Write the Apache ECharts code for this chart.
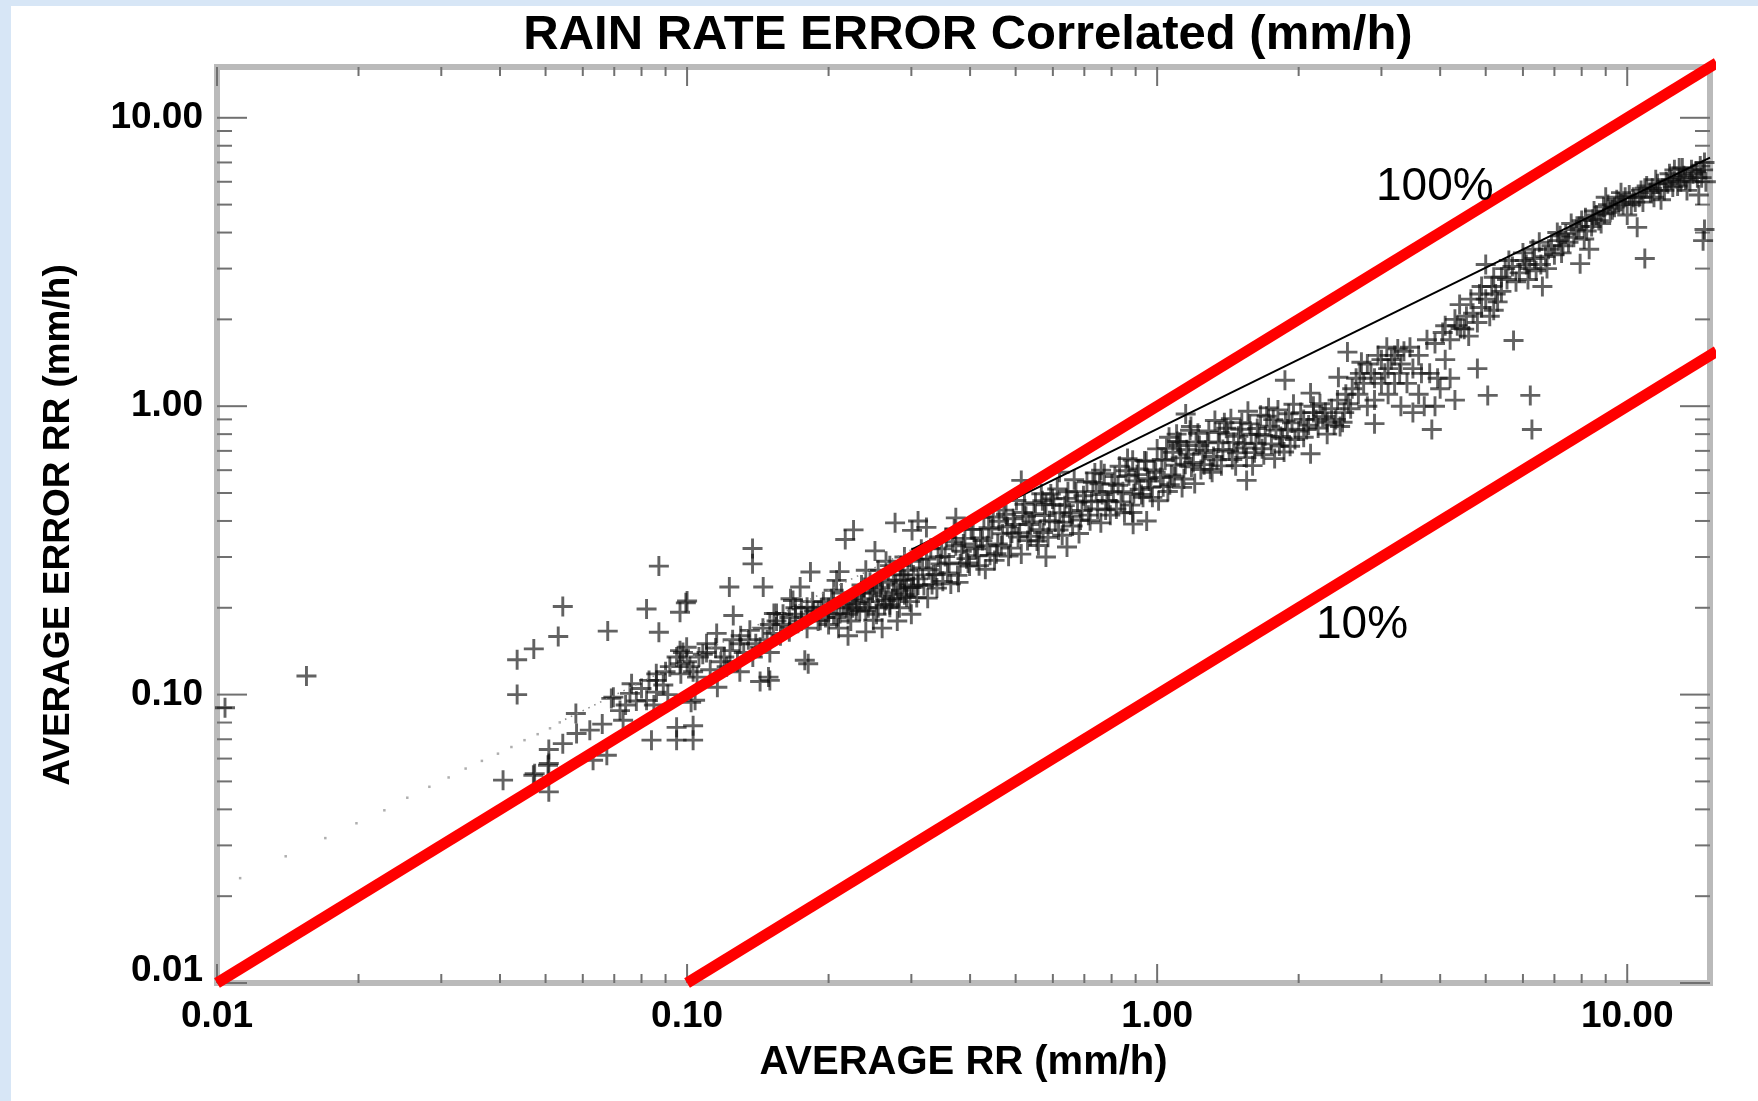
<!DOCTYPE html>
<html><head><meta charset="utf-8">
<script src="https://cdn.jsdelivr.net/npm/echarts@6/dist/echarts.min.js"></script>
<style>html,body{margin:0;padding:0;background:#fff;}#chart{width:1758px;height:1101px;}</style>
</head><body><div id="chart"></div>
<script>
// ---- axis ticks ----
const majorTicks = [0.01, 0.1, 1, 10];
const minorTicks = [0.02,0.03,0.04,0.05,0.06,0.07,0.08,0.09,0.2,0.3,0.4,0.5,0.6,0.7,0.8,0.9,2,3,4,5,6,7,8,9];

// ---- scatter data [average RR, average error RR] (mm/h) ----
const lowRRPoints = [
[0.0104,0.090],[0.0155,0.116],[0.0406,0.0505],[0.0435,0.100],[0.0435,0.132],[0.0471,0.0525],[0.0472,0.144],[0.0474,0.0532],
[0.0506,0.0569],[0.0508,0.046],[0.0508,0.0577],[0.0508,0.0645],[0.0532,0.159],[0.0544,0.0676],[0.0544,0.202],[0.0582,0.0733],
[0.0580,0.086],[0.0621,0.0753],[0.0631,0.0592],[0.066,0.079],[0.0675,0.0616],[0.0678,0.166],[0.069,0.097],[0.0697,0.098],
[0.072,0.088],[0.0731,0.0815],[0.074,0.092],[0.0756,0.101],[0.0762,0.109],[0.078,0.095],[0.080,0.105],[0.082,0.0955],
[0.0820,0.198],[0.083,0.112],[0.084,0.0695],[0.085,0.092],[0.086,0.118],[0.0861,0.102],[0.0861,0.112],[0.0871,0.1645],
[0.0871,0.279],[0.089,0.108],[0.090,0.120],[0.091,0.100],[0.0919,0.125],[0.095,0.0695],[0.095,0.077],[0.095,0.135],
[0.0966,0.128],[0.0966,0.142],[0.0966,0.193],[0.097,0.118],[0.098,0.140],[0.0994,0.208],[0.0998,0.146]
];
const midRRPoints = [
[0.1378,0.321],[0.1378,0.284],[0.123,0.236],[0.1452,0.236],[0.1254,0.188],[0.226,0.3725],[0.217,0.345],[0.277,0.394],
[0.301,0.371],[0.251,0.315],[0.183,0.266],[0.211,0.267],[0.166,0.215],[0.153,0.191],[0.178,0.1315],[0.150,0.112],
[0.143,0.111],[0.116,0.106],[0.102,0.094],[0.103,0.0695],[0.103,0.078],[0.104,0.0956],[0.1014,0.125],[0.110,0.150],
[0.1156,0.163],[0.1234,0.142],[0.1295,0.150],[0.1214,0.125],[0.1295,0.120],[0.143,0.146],[0.136,0.167],[0.1526,0.163],
[0.1656,0.1715],[0.155,0.191],[0.180,0.201],[0.192,0.181],[0.2115,0.191],[0.229,0.196],[0.249,0.181],[0.270,0.201],
[0.293,0.218],[0.303,0.236],[0.284,0.249],[0.253,0.230],[0.205,0.230],[0.168,0.212],[0.174,0.236],[0.149,0.115],
[0.181,0.128],[0.100,0.211],[0.208,0.249],[0.106,0.135],[0.100,0.130],[0.103,0.120],
[0.215,0.205],[0.222,0.212],[0.230,0.207],[0.238,0.215],[0.245,0.210],[0.260,0.220],[0.265,0.212],[0.275,0.225],
[0.285,0.230],[0.290,0.222],[0.300,0.235],[0.310,0.240],[0.240,0.195],[0.255,0.200],[0.270,0.205],[0.280,0.215],
[0.220,0.190],[0.200,0.200],[0.190,0.195],[0.185,0.210],[0.170,0.190],[0.175,0.180],[0.160,0.175],[0.165,0.185],
[0.158,0.160],[0.148,0.155],[0.140,0.150],[0.132,0.140],[0.118,0.130],[0.112,0.122],[0.108,0.138],[0.105,0.115],
[0.200,0.175],[0.210,0.170],[0.225,0.200],[0.235,0.225],[0.250,0.240],[0.310,0.400],[0.323,0.380],
[0.26,0.17],[0.28,0.18],[0.30,0.19],[0.24,0.165],[0.22,0.16],[0.27,0.28],[0.24,0.27],[0.29,0.30],
[0.255,0.27],[0.265,0.29],[0.285,0.28],[0.295,0.27],[0.275,0.26],[0.30,0.29],[0.29,0.25],[0.26,0.25],[0.245,0.245],[0.235,0.24],
[0.11,0.14],[0.115,0.145],[0.125,0.155],[0.13,0.16],[0.135,0.155],[0.145,0.17],[0.15,0.175],[0.155,0.18],[0.16,0.19],
[0.17,0.20],[0.175,0.20],[0.18,0.185],[0.19,0.18],[0.195,0.21],[0.205,0.19],[0.12,0.135],[0.128,0.13],[0.138,0.135],
[0.15,0.14],[0.165,0.165],
[0.203,0.215],[0.208,0.185],[0.213,0.225],[0.218,0.20],[0.223,0.18],[0.228,0.22],[0.233,0.195],[0.238,0.235],
[0.243,0.20],[0.248,0.225],[0.253,0.19],[0.258,0.235],[0.263,0.205],[0.268,0.245],[0.273,0.215],[0.278,0.24],
[0.283,0.20],[0.288,0.26],[0.293,0.235],[0.298,0.21],[0.303,0.26],[0.18,0.17],[0.186,0.195],[0.193,0.20],[0.197,0.185]
];
const bandPoints = [
[0.310,0.252],[0.312,0.295],[0.308,0.217],[0.317,0.275],[0.319,0.239],[0.315,0.319],[0.325,0.216],[0.327,0.271],[0.323,0.295],
[0.332,0.241],[0.334,0.260],[0.330,0.322],[0.340,0.234],[0.342,0.300],[0.338,0.261],[0.348,0.320],[0.350,0.247],[0.346,0.284],
[0.356,0.350],[0.358,0.264],[0.354,0.301],[0.364,0.242],[0.367,0.339],[0.361,0.286],[0.373,0.328],[0.376,0.259],[0.370,0.375],
[0.381,0.284],[0.384,0.314],[0.378,0.245],[0.390,0.348],[0.393,0.296],[0.387,0.333],[0.399,0.279],[0.402,0.374],[0.396,0.286],
[0.409,0.326],[0.412,0.320],[0.406,0.374],[0.418,0.280],[0.421,0.349],[0.415,0.303],[0.428,0.412],[0.431,0.272],[0.425,0.342],
[0.438,0.379],[0.441,0.304],[0.435,0.328],[0.448,0.413],[0.451,0.292],[0.445,0.375],[0.458,0.333],[0.461,0.399],[0.455,0.308],
[0.469,0.361],[0.472,0.436],[0.466,0.328],[0.480,0.382],[0.483,0.302],[0.477,0.422],[0.491,0.363],[0.494,0.407],[0.488,0.322],
[0.502,0.471],[0.506,0.352],[0.498,0.389],[0.514,0.307],[0.518,0.428],[0.510,0.364],[0.526,0.415],[0.530,0.342],[0.522,0.457],
[0.538,0.354],[0.542,0.397],[0.534,0.389],[0.551,0.463],[0.555,0.341],[0.547,0.424],[0.563,0.373],[0.567,0.497],[0.559,0.329],
[0.576,0.418],[0.580,0.455],[0.572,0.365],[0.590,0.401],[0.594,0.496],[0.586,0.351],[0.603,0.456],[0.607,0.397],[0.599,0.477],
[0.617,0.372],[0.621,0.427],[0.613,0.516],[0.632,0.396],[0.636,0.452],[0.628,0.357],[0.646,0.505],[0.651,0.426],[0.641,0.479],
[0.661,0.384],[0.666,0.556],[0.656,0.415],[0.677,0.465],[0.682,0.362],[0.672,0.505],[0.692,0.435],[0.697,0.489],[0.687,0.403],
[0.709,0.547],[0.714,0.419],[0.704,0.469],[0.725,0.466],[0.730,0.545],[0.720,0.401],[0.742,0.506],[0.747,0.440],[0.737,0.587],
[0.759,0.394],[0.764,0.494],[0.754,0.538],[0.777,0.437],[0.782,0.471],[0.772,0.583],[0.795,0.419],[0.801,0.537],[0.789,0.468],
[0.813,0.570],[0.819,0.440],[0.807,0.505],[0.832,0.619],[0.838,0.466],[0.826,0.532],[0.852,0.427],[0.858,0.597],[0.846,0.505],
[0.871,0.574],[0.877,0.454],[0.865,0.658],[0.892,0.497],[0.898,0.550],[0.886,0.428],[0.912,0.606],[0.918,0.515],[0.906,0.579],
[0.933,0.483],[0.940,0.646],[0.926,0.494],[0.955,0.561],[0.962,0.550],[0.948,0.644],[0.977,0.483],[0.984,0.601],[0.970,0.523],
[1.000,0.711],[1.007,0.470],[0.993,0.590],[1.023,0.654],[1.030,0.526],[1.016,0.566],[1.047,0.714],[1.054,0.506],[1.040,0.649],
[1.072,0.577],[1.080,0.692],[1.064,0.534],[1.096,0.624],[1.104,0.754],[1.088,0.569],[1.122,0.662],[1.130,0.523],[1.114,0.731],
[1.148,0.629],[1.156,0.706],[1.140,0.559],[1.175,0.825],[1.183,0.616],[1.167,0.681],[1.202,0.539],[1.210,0.751],[1.194,0.638],
[1.230,0.731],[1.239,0.603],[1.221,0.806],[1.259,0.627],[1.268,0.703],[1.250,0.689],[1.288,0.821],[1.297,0.604],[1.279,0.751],
[1.318,0.669],[1.327,0.892],[1.309,0.590],[1.349,0.746],[1.358,0.811],[1.340,0.652],[1.380,0.708],[1.390,0.876],[1.370,0.621],
[1.413,0.802],[1.423,0.699],[1.403,0.839],[1.445,0.653],[1.455,0.749],[1.435,0.905],[1.479,0.689],[1.489,0.786],[1.469,0.622],
[1.514,0.877],[1.525,0.741],[1.503,0.832],[1.549,0.663],[1.560,0.960],[1.538,0.716],[1.585,0.799],[1.596,0.622],[1.574,0.868],
[1.622,0.744],[1.633,0.837],[1.611,0.690],[1.660,0.931],[1.672,0.712],[1.648,0.798],[1.698,0.789],[1.710,0.923],[1.686,0.679],
[1.738,0.852],[1.750,0.740],[1.726,0.987],[1.778,0.658],[1.790,0.826],[1.766,0.898],[1.820,0.728],[1.833,0.785],[1.807,0.971],
[1.862,0.694],[1.875,0.889],[1.849,0.775],[1.905,0.941],[1.918,0.726],[1.892,0.833],[1.950,1.016],[1.964,0.766],[1.936,0.875]
];
const bandOutliers = [
[0.373,0.41],[0.514,0.553],[0.57,0.47],[0.62,0.59],[0.76,0.60],[0.887,0.65],[0.889,0.39],[0.95,0.40],[0.643,0.325],
[0.58,0.30],[1.12,0.75],[1.15,0.94],[1.55,0.553],[1.87,1.23],[1.06,0.78],[1.10,0.80],[1.18,0.85]
];
const topRRPoints = [
[2.0,0.82],[2.05,0.90],[2.1,0.86],[2.12,1.11],[2.12,0.684],[2.15,0.95],[2.2,0.84],[2.25,0.92],[2.3,0.88],
[2.35,0.98],[2.4,0.90],[2.43,1.26],[2.45,0.85],[2.5,0.95],[2.54,1.54],[2.55,1.02],[2.05,0.78],[2.3,0.80],[2.15,1.0],
[2.6,1.15],[2.7,1.3],[2.75,1.2],[2.8,1.4],[2.8,1.0],[2.9,1.25],[2.9,1.05],[2.9,0.87],[3.0,1.45],[3.05,1.3],
[3.1,1.35],[3.1,1.1],[3.2,1.5],[3.2,1.2],[3.25,1.58],[3.3,1.4],[3.3,1.0],[3.4,1.2],[3.5,1.35],[3.5,0.95],
[3.6,1.1],[3.7,1.0],[3.8,1.3],[3.84,0.83],[3.9,1.0],[4.0,1.15],[4.2,1.25],[4.3,1.05],
[4.1,1.9],[4.3,2.0],[4.42,1.86],[4.4,2.25],[4.5,1.85],[4.7,2.1],[4.8,1.35],[4.8,1.95],[4.9,2.2],[5.05,1.09],
[5.1,2.05],[5.3,2.3],[4.9,2.6],[5.0,3.1],[5.2,2.8],[5.4,2.5],[5.5,3.0],[5.73,1.69],[5.8,2.7],[6.0,3.4],
[6.1,3.1],[6.22,1.09],[6.27,0.83],[6.4,2.95],[6.6,2.6],[6.7,3.3],[6.9,3.6],[7.0,3.35],[7.2,3.9],[7.5,3.7],
[7.6,4.3],[7.8,4.1],[7.94,3.12],[8.1,3.8],[8.3,3.5],[8.4,4.2],[8.6,4.6],[8.9,4.9],[9.0,5.3],[9.2,4.7],
[9.5,5.2],[9.8,5.0],[10.0,4.6],[10.1,5.4],[10.4,5.1],[10.5,4.17],[10.7,5.6],[10.9,3.25],[11.2,5.5],[11.6,5.9],
[11.8,5.2],[12.0,5.6],[12.4,6.1],[12.6,6.6],[12.8,5.8],[13.2,6.3],[13.4,5.6],[13.6,6.0],[14.0,6.5],[14.2,5.4],
[14.4,6.2],[14.5,3.75],[14.6,4.1],[5.6,3.2],[6.3,3.5],[7.3,3.6],[8.0,4.4],[8.8,4.3],[9.4,4.9],[10.2,5.0],
[11.0,5.8],[11.4,5.3],[12.2,5.9],[13.0,6.0],[13.8,6.4],[14.3,6.8],[12.9,6.7],[9.7,5.5],[8.5,4.75],[7.1,4.0],[6.5,3.7],
[2.02,0.95],[2.08,0.83],[2.18,0.9],[2.22,1.02],[2.28,0.95],[2.38,0.86],[2.42,1.05],[2.48,0.88],[2.52,1.1],[2.58,0.98],
[2.65,1.25],[2.72,1.42],[2.85,1.3],[2.95,1.5],[3.0,1.2],[3.15,1.45],[3.28,1.3],[3.35,1.55],[2.68,1.1],[3.08,1.6],
[3.45,1.6],[3.6,1.5],[3.75,1.7],[3.9,1.65],[4.05,1.8],[4.2,1.7],[4.35,1.9],[3.65,1.3],[4.1,1.45],[3.95,1.25],
[4.55,2.05],[4.65,2.35],[4.85,2.45],[5.0,2.35],[5.15,2.6],[5.25,2.45],[5.4,2.8],[4.6,1.75],[5.2,2.15],
[5.55,2.75],[5.7,3.05],[5.9,2.9],[6.05,3.2],[6.2,3.0],[6.35,3.25],[6.55,3.1],[6.8,3.5],[6.15,2.75],[6.75,3.0],
[7.15,3.75],[7.4,3.95],[7.7,3.85],[7.9,4.2],[8.2,4.05],[8.45,4.45],[8.7,4.4],[8.95,4.65],[9.3,4.8],[9.6,5.1],
[9.9,5.3],[7.25,3.4],[8.15,4.5],[9.1,5.0],
[10.3,5.3],[10.6,5.3],[10.9,5.7],[11.3,5.7],[11.7,5.6],[12.1,6.0],[12.5,5.75],[12.9,6.2],[13.3,6.1],[13.7,6.6],
[14.1,6.2],[14.5,6.6],[14.7,6.0],[11.5,6.1],[13.1,6.7],[14.6,7.0],[10.8,5.1],[12.3,6.4]
];

// ---- fitted curve (dotted at low rates, solid above) ----
const fitDotsX = [0.0112,0.0140,0.0170,0.0198,0.0227,0.0254,0.0283,0.0311,0.0338,0.0366,0.0396,0.0423,0.0451,0.0481,0.0511,0.0536];
const fitDotsY = [0.0231,0.0275,0.0318,0.0358,0.0397,0.0439,0.0479,0.0516,0.0554,0.0589,0.0624,0.0658,0.0695,0.0729,0.0764,0.0801];
const fitDashX = [0.055, 0.30];
const fitDashY = [0.082, 0.318];
const fitLineX = [0.30, 15];
const fitLineY = [0.318, 7.28];

// ---- reference lines drawn over the plot ----
const line100X = [0.01, 15.5], line100Y = [0.01, 15.5];
const line10X = [0.1, 15.5], line10Y = [0.01, 1.55];

const zip = (a, b) => a.map((v, i) => [v, b[i]]);
const FONT = '"Liberation Sans", Arial, Helvetica, sans-serif';
const plus = 'path://M8.55,0H11.45V8.55H20V11.45H11.45V20H8.55V11.45H0V8.55H8.55Z';
const TICK = '#707070';

function xTicks(len) {
  return function (params, api) {
    const cs = params.coordSys;
    const x = api.coord([api.value(0), 1])[0];
    const b = cs.y + cs.height, t = cs.y;
    return { type: 'group', children: [
      { type: 'line', shape: { x1: x, y1: b, x2: x, y2: b - len }, style: { stroke: TICK, lineWidth: 2 } },
      { type: 'line', shape: { x1: x, y1: t, x2: x, y2: t + len }, style: { stroke: TICK, lineWidth: 2 } }
    ]};
  };
}
function yTicks(len) {
  return function (params, api) {
    const cs = params.coordSys;
    const y = api.coord([1, api.value(1)])[1];
    const l = cs.x, r = cs.x + cs.width;
    return { type: 'group', children: [
      { type: 'line', shape: { x1: l, y1: y, x2: l + len, y2: y }, style: { stroke: TICK, lineWidth: 2 } },
      { type: 'line', shape: { x1: r, y1: y, x2: r - len, y2: y }, style: { stroke: TICK, lineWidth: 2 } }
    ]};
  };
}
function decadeLabel(v) {
  const l = Math.log10(v);
  return Math.abs(l - Math.round(l)) < 1e-6 ? v.toFixed(2) : '';
}
function yDecadeLabel(v) {
  const s = decadeLabel(v);
  return s === '0.01' ? '{lo|0.01}' : s;
}

const LABEL = { fontFamily: FONT, fontWeight: 'bold', fontSize: 37, color: '#000' };
const chart = echarts.init(document.getElementById('chart'), null, { renderer: 'canvas' });
const allPoints = [].concat(lowRRPoints, midRRPoints, bandPoints, bandOutliers, topRRPoints);

chart.setOption({
  animation: false,
  backgroundColor: '#ffffff',
  title: {
    text: 'RAIN RATE ERROR Correlated (mm/h)',
    left: 963, top: 6, textAlign: 'center',
    textStyle: { fontFamily: FONT, fontWeight: 'bold', fontSize: 49, color: '#000' }
  },
  grid: {
    left: 217, top: 67, width: 1493, height: 916, containLabel: false, outerBoundsMode: 'none',
    show: true, borderColor: '#bababa', borderWidth: 6, backgroundColor: 'transparent'
  },
  xAxis: {
    type: 'log', logBase: 10, min: 0.01, max: 15,
    axisLine: { show: false }, axisTick: { show: false }, splitLine: { show: false }, minorTick: { show: false },
    axisLabel: Object.assign({ formatter: decadeLabel, margin: 15 }, LABEL),
    name: 'AVERAGE RR (mm/h)', nameLocation: 'middle', nameGap: 60,
    nameTextStyle: { fontFamily: FONT, fontWeight: 'bold', fontSize: 40, color: '#000' }
  },
  yAxis: {
    type: 'log', logBase: 10, min: 0.01, max: 15,
    axisLine: { show: false }, axisTick: { show: false }, splitLine: { show: false }, minorTick: { show: false },
    axisLabel: Object.assign({ formatter: yDecadeLabel, margin: 14,
      rich: { lo: { fontFamily: FONT, fontWeight: 'bold', fontSize: 37, color: '#000', padding: [0, 0, 24, 0] } } }, LABEL),
    name: 'AVERAGE ERROR RR (mm/h)', nameLocation: 'middle', nameGap: 140,
    nameTextStyle: { fontFamily: FONT, fontWeight: 'bold', fontSize: 37, color: '#000' }
  },
  graphic: [
    { type: 'rect', left: 0, top: 0, shape: { width: 11, height: 1101 }, style: { fill: '#d7e6f6' }, silent: true },
    { type: 'rect', left: 0, top: 0, shape: { width: 1758, height: 6 }, style: { fill: '#d7e6f6' }, silent: true },
    { type: 'text', x: 1376, y: 187, z: 100, style: { text: '100%', font: '46px ' + FONT, fill: '#000', verticalAlign: 'middle', align: 'left' } },
    { type: 'text', x: 1316, y: 625, z: 100, style: { text: '10%', font: '46px ' + FONT, fill: '#000', verticalAlign: 'middle', align: 'left' } }
  ],
  series: [
    { type: 'custom', silent: true, renderItem: xTicks(19), data: majorTicks.map(v => [v, 1]), z: 3 },
    { type: 'custom', silent: true, renderItem: xTicks(9), data: minorTicks.map(v => [v, 1]), z: 3 },
    { type: 'custom', silent: true, renderItem: yTicks(30), data: majorTicks.map(v => [1, v]), z: 3 },
    { type: 'custom', silent: true, renderItem: yTicks(15), data: minorTicks.map(v => [1, v]), z: 3 },
    { type: 'scatter', silent: true, data: allPoints, symbol: plus, symbolSize: 20,
      itemStyle: { color: 'rgba(15,15,15,0.82)' }, z: 4 },
    { type: 'scatter', silent: true, data: zip(fitDotsX, fitDotsY), symbol: 'rect', symbolSize: 2.5,
      itemStyle: { color: '#9a9a9a' }, z: 5 },
    { type: 'line', silent: true, data: zip(fitDashX, fitDashY), symbol: 'none',
      lineStyle: { color: '#8a8a8a', width: 1.5, type: [1.5, 5] }, z: 5 },
    { type: 'line', silent: true, data: zip(fitLineX, fitLineY), symbol: 'none',
      lineStyle: { color: '#000', width: 2 }, z: 5 },
    { type: 'line', silent: true, data: zip(line100X, line100Y), symbol: 'none', clip: false,
      lineStyle: { color: '#ff0000', width: 11, cap: 'butt' }, z: 6 },
    { type: 'line', silent: true, data: zip(line10X, line10Y), symbol: 'none', clip: false,
      lineStyle: { color: '#ff0000', width: 11, cap: 'butt' }, z: 6 }
  ]
});
</script>
</body></html>
